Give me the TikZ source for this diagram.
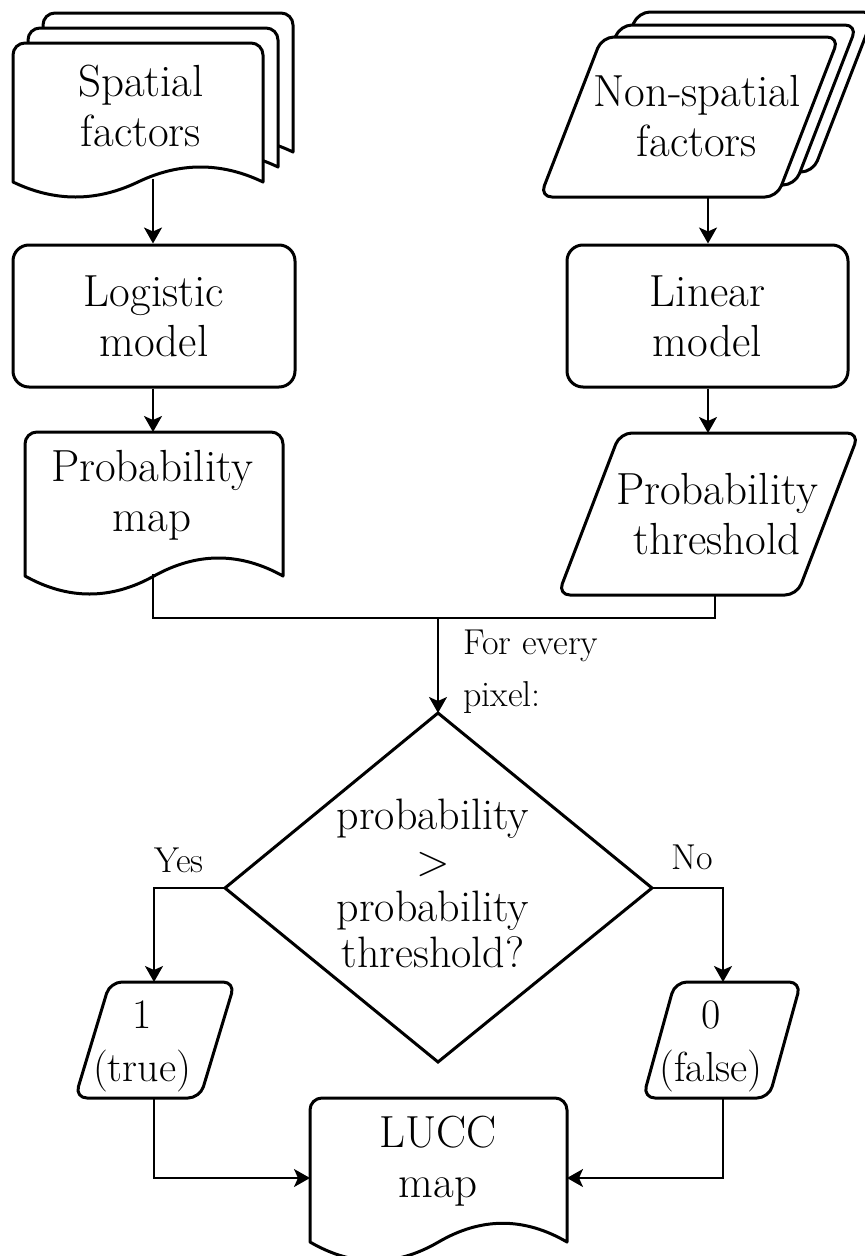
\documentclass[tikz,border=0pt]{standalone}
\usetikzlibrary{arrows.meta,calc}
\newcommand\bigfont{\fontsize{45}{50}\selectfont}
\newcommand\diafont{\fontsize{44}{46}\selectfont}
\newcommand\tffont{\fontsize{42}{53}\selectfont}
\newcommand\smallfont{\fontsize{36}{52}\selectfont}
\tikzset{
  shp/.style={draw, line width=3pt, fill=white, line join=round},
  conn/.style={line width=2pt},
  arr/.style={conn, -{Stealth[length=16pt,width=18pt,inset=4pt]}},
  rbox/.style={shp, rounded corners=16pt, minimum width=282pt, minimum height=142pt, align=center, font=\bigfont, inner sep=0pt},
  lbl/.style={align=center, font=\bigfont, inner sep=0pt},
  smalllbl/.style={font=\smallfont, inner sep=0pt},
}
\newcommand{\mydocshape}[5]{%
  \pgfmathsetmacro\mdmid{(#1+#3)/2}%
  \pgfmathsetmacro\mdA{#1+(#3-#1)/6}%
  \pgfmathsetmacro\mdB{#1+(#3-#1)/3}%
  \pgfmathsetmacro\mdC{\mdmid+(#3-#1)/6}%
  \pgfmathsetmacro\mdD{\mdmid+(#3-#1)/3}%
  \draw[shp] (#3,#4) [rounded corners=12pt] -- (#3,#2) -- (#1,#2) [sharp corners] -- (#1,#4)
    .. controls (\mdA,#4+#5) and (\mdB,#4+#5) .. (\mdmid,#4)
    .. controls (\mdC,#4-#5) and (\mdD,#4-#5) .. (#3,#4) -- cycle;
}
\newcommand{\mypara}[5]{%
  \draw[shp, rounded corners=12pt] (#1,#3) -- (#1+#5,#2) -- (#1+#5+#4,#2) -- (#1+#4,#3) -- cycle;
}
\begin{document}
\begin{tikzpicture}[x=1pt,y=-1pt]
\useasboundingbox (0,0) rectangle (865,1256);
% stacked documents
\mydocshape{43}{13}{293}{152}{20}
\mydocshape{28}{28}{278}{167}{20}
\mydocshape{13}{43}{263}{182}{20}
% stacked parallelograms
\mypara{576}{12}{172}{237}{62}
\mypara{558}{25}{185}{237}{62}
\mypara{540}{37}{197}{237}{62}
% models
\node[rbox] (logistic) at (154,316) {Logistic\\model};
\node[rbox, minimum width=281pt] (linear) at (707.5,316) {Linear\\model};
% probability map / threshold
\mydocshape{25}{432}{283}{576}{24}
\mypara{558}{433}{595}{239}{62}
% diamond
\coordinate (dtop) at (438,713);
\coordinate (dright) at (652,888);
\coordinate (dbot) at (438,1062);
\coordinate (dleft) at (225,888);
\draw[shp, line join=miter] (dtop) -- (dright) -- (dbot) -- (dleft) -- cycle;
% outputs
\mypara{75}{982}{1098}{125}{35}
\mypara{643}{982}{1098}{126}{32}
\mydocshape{310}{1098}{567}{1242}{25}
% texts
\node[lbl] (sf) at (141,106) {Spatial\\factors};
\node[lbl] (nsf) at (697,116) {Non-spatial\\factors};
\node[lbl] (pm) at (152,495) {Probability\\map};
\node[lbl] (pt) at (717,514) {Probability\\threshold};
\node[lbl, font=\diafont] (cond) at (433,883) {probability\\>\\probability\\threshold?};
\node[lbl, font=\tffont] (one) at (142,1046) {1\\(true)};
\node[lbl, font=\tffont] (zero) at (711,1046) {0\\(false)};
\node[lbl] (lucc) at (438,1161) {LUCC\\map};
\node[smalllbl, anchor=west, align=left] (every) at (463,672) {For every\\pixel:};
\node[smalllbl] (yes) at (179,860) {Yes};
\node[smalllbl] (no) at (692,857) {No};
% connection points
\coordinate (sfout) at (153,179);
\coordinate (nsfout) at (708,197);
\coordinate (pmin) at (153,432);
\coordinate (ptin) at (708,433);
\coordinate (pmout) at (153,574);
\coordinate (ptout) at (715,595);
\coordinate (join) at (438,618);
\coordinate (tin) at (154,982);
\coordinate (fin) at (723,982);
\coordinate (tout) at (154,1098);
\coordinate (fout) at (723,1098);
\coordinate (luccl) at (310,1178);
\coordinate (luccr) at (567,1178);
% connectors
\draw[arr] (sfout) -- (logistic.north -| sfout);
\draw[arr] (logistic.south -| pmin) -- (pmin);
\draw[arr] (nsfout) -- (linear.north -| nsfout);
\draw[arr] (linear.south -| ptin) -- (ptin);
\draw[conn] (pmout) -- (pmout |- join) -- (join -| ptout) -- (ptout);
\draw[arr] (join) -- (dtop);
\draw[arr] (dleft) -| (tin);
\draw[arr] (dright) -| (fin);
\draw[arr] (tout) |- (luccl);
\draw[arr] (fout) |- (luccr);
\end{tikzpicture}
\end{document}
